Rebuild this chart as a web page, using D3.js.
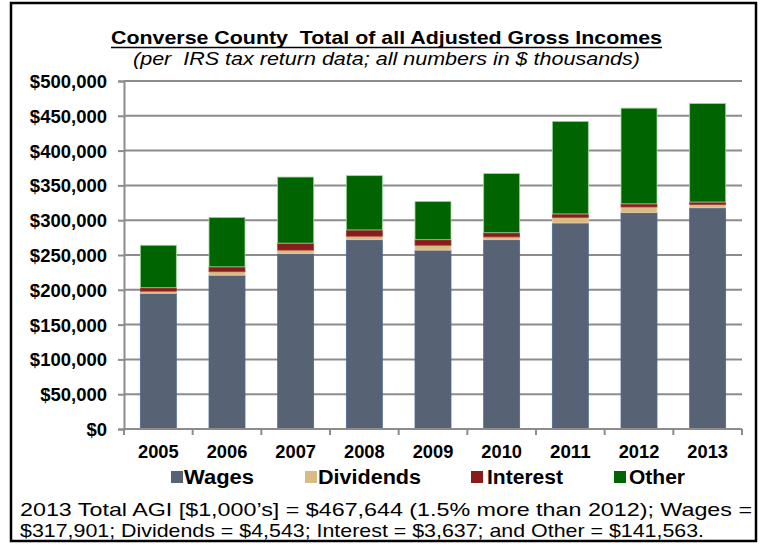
<!DOCTYPE html>
<html>
<head>
<meta charset="utf-8">
<script src="https://cdn.jsdelivr.net/npm/d3@7"></script>
<style>
  html, body { margin: 0; padding: 0; background: #fff; }
  svg { display: block; }
  svg text { font-family: "Liberation Sans", Arial, Helvetica, sans-serif; white-space: pre; }
</style>
</head>
<body>
<svg id="chart" width="762" height="546"></svg>
<script>
const years = ["2005","2006","2007","2008","2009","2010","2011","2012","2013"];
const wages     = [195000, 221000, 252000, 272000, 257000, 272000, 296000, 311000, 317901];
const dividends = [  3000,   5000,   5000,   5000,   7000,   4000,   8000,   8000,   4543];
const interest  = [  5000,   7000,  10000,   9000,   8000,   6000,   5000,   4500,   3637];
const other     = [ 61000,  71000,  95000,  78000,  55000,  85000, 133000, 137500, 141563];
const seriesNames = ["Wages","Dividends","Interest","Other"];
const yTicks = [0, 50000, 100000, 150000, 200000, 250000, 300000, 350000, 400000, 450000, 500000];
const titleText = "Converse County  Total of all Adjusted Gross Incomes";
const subtitleText = "(per  IRS tax return data; all numbers in $ thousands)";
const noteLine1 = "2013 Total AGI [$1,000\u2019s] = $467,644 (1.5% more than 2012); Wages =";
const noteLine2 = "$317,901; Dividends = $4,543; Interest = $3,637; and Other = $141,563.";

const colors = {Wages:"#586275", Dividends:"#dbbb85", Interest:"#8a1b1b", Other:"#006400"};
const strokes = {Wages:"#4a6a94", Dividends:"#e8d2aa", Interest:"#a04040", Other:"#9fd49f"};

const svg = d3.select("#chart");

// frame
svg.append("rect").attr("x", 11).attr("y", 3).attr("width", 745).attr("height", 538)
  .attr("fill", "none").attr("stroke", "#000").attr("stroke-width", 2.5);

const x = d3.scaleBand().domain(years).range([124, 742]).paddingInner(0.476).paddingOuter(0.238);
const y = d3.scaleLinear().domain([0, 500000]).range([429, 81]);

// width of numeric label in an Arial-like bold face (em units)
function numEm(s) {
  let w = 0;
  for (const c of s) w += (c === "," ? 0.278 : 0.556);
  return w;
}

// gridlines
svg.append("g").selectAll("line").data(yTicks.filter(d => d > 0)).join("line")
  .attr("x1", 124).attr("x2", 742)
  .attr("y1", d => y(d)).attr("y2", d => y(d))
  .attr("stroke", "#8c8c8c").attr("stroke-width", 2);

// y axis
const yAxis = svg.append("g").attr("transform", "translate(124,0)")
  .call(d3.axisLeft(y).tickValues(yTicks).tickSize(6).tickPadding(11)
    .tickFormat(d => "$" + d3.format(",")(d)));
yAxis.attr("font-family", null).attr("font-size", null);
yAxis.select(".domain").attr("stroke", "#8c8c8c").attr("stroke-width", 2);
yAxis.selectAll(".tick line").attr("stroke", "#8c8c8c").attr("stroke-width", 2);
yAxis.selectAll(".tick text").attr("font-size", 18).attr("font-weight", "bold")
  .attr("fill", "#000").attr("dy", "0.36em")
  .attr("textLength", function() { return numEm(this.textContent) * 18.5; })
  .attr("lengthAdjust", "spacingAndGlyphs");

// stacked data
const table = years.map((yr, i) => ({year: yr, Wages: wages[i], Dividends: dividends[i], Interest: interest[i], Other: other[i]}));
const stack = d3.stack().keys(seriesNames)(table);

svg.append("g").selectAll("g").data(stack).join("g")
  .attr("fill", d => colors[d.key]).attr("stroke", d => strokes[d.key]).attr("stroke-width", 0.8)
  .selectAll("rect").data(d => d).join("rect")
  .attr("x", d => x(d.data.year))
  .attr("width", x.bandwidth())
  .attr("y", d => y(d[1]))
  .attr("height", d => y(d[0]) - y(d[1]));

// x axis
const step = x.step();
const gap = (step - x.bandwidth()) / 2;
const boundaries = years.map(yr => x(yr) - gap).concat([x(years[years.length-1]) + x.bandwidth() + gap]);
svg.append("line").attr("x1", 124).attr("x2", 742).attr("y1", y(0)).attr("y2", y(0))
  .attr("stroke", "#8c8c8c").attr("stroke-width", 2);
svg.append("g").selectAll("line").data(boundaries).join("line")
  .attr("x1", d => d).attr("x2", d => d).attr("y1", y(0)).attr("y2", y(0) + 6)
  .attr("stroke", "#8c8c8c").attr("stroke-width", 2);
svg.append("g").selectAll("text").data(years).join("text")
  .attr("x", d => x(d) + x.bandwidth() / 2).attr("y", 457.5)
  .attr("text-anchor", "middle").attr("font-size", 17.5).attr("font-weight", "bold")
  .attr("textLength", d => numEm(d) * 18.3).attr("lengthAdjust", "spacingAndGlyphs")
  .text(d => d);

// title
svg.append("text").attr("x", 111).attr("y", 44).attr("font-size", 19).attr("font-weight", "bold")
  .attr("textLength", 551).attr("lengthAdjust", "spacingAndGlyphs").text(titleText);
svg.append("line").attr("x1", 111).attr("x2", 662).attr("y1", 47.5).attr("y2", 47.5)
  .attr("stroke", "#000").attr("stroke-width", 1.6);
svg.append("text").attr("x", 133).attr("y", 64.5).attr("font-size", 18).attr("font-style", "italic")
  .attr("textLength", 507).attr("lengthAdjust", "spacingAndGlyphs").text(subtitleText);

// legend
const legendPos = [
  {name: "Wages", sx: 171, tx: 184, tw: 70},
  {name: "Dividends", sx: 305, tx: 318, tw: 103},
  {name: "Interest", sx: 471, tx: 487, tw: 76},
  {name: "Other", sx: 614, tx: 629, tw: 56}
];
const lg = svg.append("g");
lg.selectAll("rect").data(legendPos).join("rect")
  .attr("x", d => d.sx).attr("y", 471).attr("width", 12).attr("height", 12)
  .attr("fill", d => colors[d.name]);
lg.selectAll("text").data(legendPos).join("text")
  .attr("x", d => d.tx).attr("y", 484).attr("font-size", 20).attr("font-weight", "bold")
  .attr("textLength", d => d.tw).attr("lengthAdjust", "spacingAndGlyphs")
  .text(d => d.name);

// note
svg.append("text").attr("x", 20).attr("y", 516).attr("font-size", 19)
  .attr("textLength", 732).attr("lengthAdjust", "spacingAndGlyphs").text(noteLine1);
svg.append("text").attr("x", 20).attr("y", 537).attr("font-size", 19)
  .attr("textLength", 684).attr("lengthAdjust", "spacingAndGlyphs").text(noteLine2);
</script>
</body>
</html>
